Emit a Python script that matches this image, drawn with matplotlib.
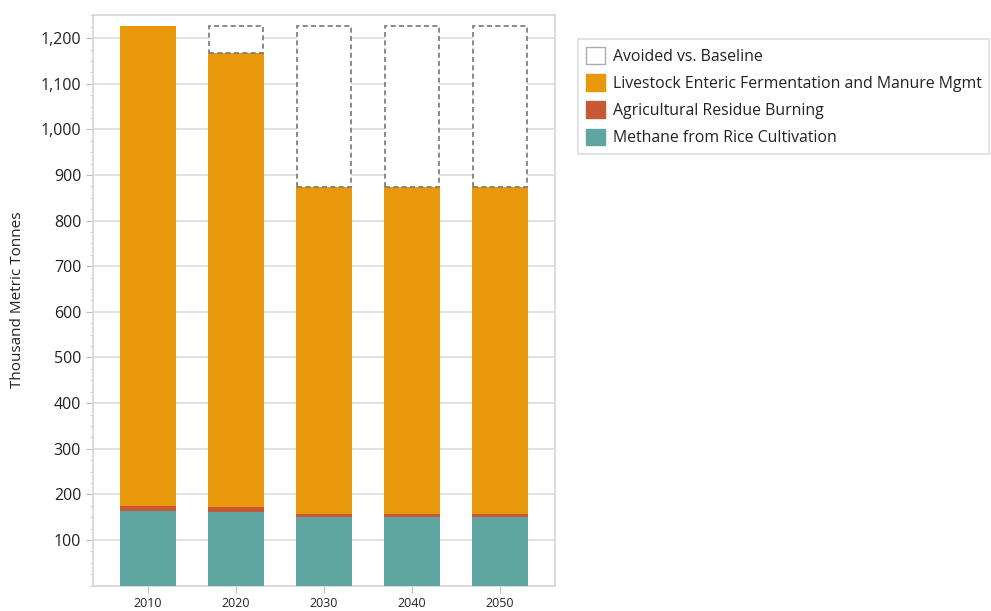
import numpy as np
import matplotlib.pyplot as plt
from matplotlib.patches import Patch
from matplotlib.ticker import MultipleLocator, FuncFormatter

plt.rcParams['font.family'] = ['Open Sans', 'DejaVu Sans']

years = ['2010', '2020', '2030', '2040', '2050']
rice = [163, 161, 150, 150, 150]
residue = [11, 10.5, 6, 6, 6]
livestock = [1053.5, 996.5, 718, 718, 718]
avoided = [0, 59.5, 353.5, 353.5, 353.5]

c_rice = '#5FA6A0'
c_res = '#C65835'
c_live = '#E8980A'
grid_c = '#DDDDDD'

fig = plt.figure(figsize=(9.91, 6.11), dpi=100)
ax = fig.add_axes([0.0938, 0.0416, 0.4662, 0.934])

x = np.arange(len(years))
w = 0.64
rice = np.array(rice)
residue = np.array(residue)
livestock = np.array(livestock)
avoided = np.array(avoided)

ax.bar(x, rice, w, color=c_rice, zorder=3)
ax.bar(x, residue, w, bottom=rice, color=c_res, zorder=3)
ax.bar(x, livestock, w, bottom=rice + residue, color=c_live, zorder=3)
top = rice + residue + livestock
for xi, b, h in zip(x, top, avoided):
    if h > 0:
        ax.bar(xi, h, w * 0.97, bottom=b, facecolor='white', edgecolor='#777777',
               linestyle=(0, (3, 2)), linewidth=1.2, zorder=3)

ax.set_xlim(-0.625, 4.625)
ax.set_ylim(0, 1251)
ax.set_xticks(x)
ax.set_xticklabels(years, fontsize=9)
ax.set_yticks(np.arange(100, 1201, 100))
ax.yaxis.set_major_formatter(FuncFormatter(lambda v, p: f'{int(v):,}'))
ax.yaxis.set_minor_locator(MultipleLocator(25))
ax.tick_params(axis='y', labelsize=11.5, length=5, color='#BBBBBB', labelcolor='#222222')
ax.tick_params(axis='y', which='minor', length=2, color='#CCCCCC')
ax.tick_params(axis='x', length=5, color='#BBBBBB', labelcolor='#222222')
ax.grid(axis='y', color=grid_c, linewidth=1.2, zorder=0)
for s in ax.spines.values():
    s.set_color('#D5D5D5')
    s.set_linewidth(1.2)

fig.text(0.018, 0.51, 'Thousand Metric Tonnes', rotation=90, va='center', ha='center',
         fontsize=11, color='#222222')

handles = [
    Patch(facecolor='white', edgecolor='#AAAAAA', label='Avoided vs. Baseline'),
    Patch(facecolor=c_live, edgecolor=c_live, label='Livestock Enteric Fermentation and Manure Mgmt'),
    Patch(facecolor=c_res, edgecolor=c_res, label='Agricultural Residue Burning'),
    Patch(facecolor=c_rice, edgecolor=c_rice, label='Methane from Rice Cultivation'),
]
leg = fig.legend(handles=handles, loc='upper left', bbox_to_anchor=(0.583, 0.936),
                 fontsize=11.4, frameon=True, fancybox=False, handlelength=1.25,
                 handleheight=1.25, handletextpad=0.45, labelspacing=0.6,
                 borderpad=0.5, borderaxespad=0, labelcolor='#222222')
leg.get_frame().set_edgecolor('#D5D5D5')
leg.get_frame().set_linewidth(1.2)

fig.savefig('out.png', dpi=100)
